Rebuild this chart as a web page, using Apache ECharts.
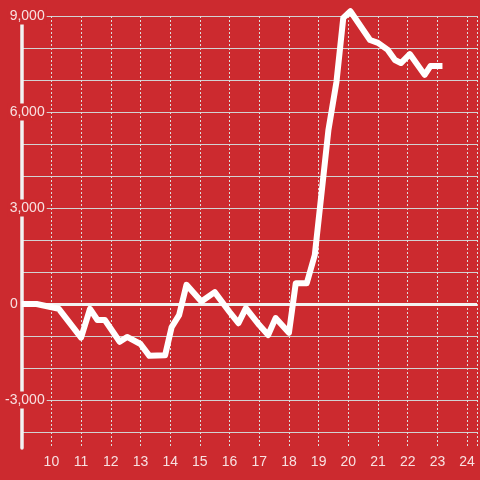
<!DOCTYPE html>
<html>
<head>
<meta charset="utf-8">
<script src="https://cdn.jsdelivr.net/npm/echarts@6/dist/echarts.min.js"></script>
<style>
  html, body { margin: 0; padding: 0; background: #cc2a2f; }
  #chart { width: 480px; height: 480px; }
</style>
</head>
<body>
<div id="chart"></div>
<script>
// time of day (hours) and value
const hours = [9, 9.5, 10.25, 11, 11.3, 11.55, 11.8, 12.3, 12.55, 13, 13.3, 13.83, 14.05, 14.3, 14.55,
  15.05, 15.5, 16, 16.3, 16.55, 17, 17.3, 17.55, 18, 18.23, 18.6, 18.87, 19.33, 19.6, 19.83, 20.07,
  20.73, 21, 21.33, 21.57, 21.77, 22.07, 22.57, 22.77, 23.17];
const values = [0, 0, -150, -1050, -150, -500, -500, -1180, -1030, -1250, -1620, -1600, -720, -350, 600,
  80, 370, -250, -600, -130, -660, -970, -440, -900, 650, 650, 1530, 5440, 6940, 8940, 9150,
  8250, 8160, 7940, 7625, 7530, 7810, 7160, 7440, 7440];
const xTicks = [10, 11, 12, 13, 14, 15, 16, 17, 18, 19, 20, 21, 22, 23, 24];
const yLabels = [-3000, 0, 3000, 6000, 9000];

const bg = '#cc2a2f';
const txt = 'rgba(255,255,255,0.86)';
const font = 'Liberation Sans, Arial, sans-serif';

const mychart = echarts.init(document.getElementById('chart'));

const gridColors = [];
for (let i = 0; i < 15; i++) gridColors.push(i === 0 ? 'transparent' : '#d2d2d2');

option = {
  backgroundColor: bg,
  animation: false,
  grid: { left: 20, right: 0, top: 16, bottom: 32 },
  xAxis: {
    type: 'value',
    min: 9,
    max: 24.333,
    interval: 1,
    axisLine: { show: false },
    axisTick: { show: false },
    axisLabel: {
      color: txt,
      fontFamily: font,
      fontSize: 14,
      margin: 7,
      formatter: function (v) { return xTicks.indexOf(v) >= 0 ? String(v) : ''; }
    },
    splitLine: {
      show: true,
      lineStyle: { color: '#dcdcdc', width: 1, type: [2, 2] }
    }
  },
  yAxis: {
    type: 'value',
    min: -4500,
    max: 9000,
    splitNumber: 14,
    axisLine: { show: true, onZero: false, lineStyle: { color: '#f2f2f2', width: 3.5 } },
    axisTick: { show: false },
    axisLabel: {
      margin: -25,
      fontFamily: font,
      fontSize: 14,
      color: txt,
      formatter: function (v) {
        if (yLabels.indexOf(v) < 0) return '';
        if (v === 0) return '{z|0}';
        return '{a|' + v.toLocaleString('en-US') + '}';
      },
      rich: {
        a: { color: txt, fontFamily: font, fontSize: 14, backgroundColor: bg, padding: [2, 2, 1, 2] },
        z: { color: txt, fontFamily: font, fontSize: 14, padding: [0, 29, 0, 0] }
      }
    },
    splitLine: { show: true, lineStyle: { color: gridColors, width: 1 } }
  },
  series: [{
    type: 'line',
    data: hours.map(function (h, i) { return [h, values[i]]; }),
    showSymbol: false,
    clip: false,
    lineStyle: { color: '#ffffff', width: 6, cap: 'butt', join: 'round' },
    z: 5,
    markLine: {
      silent: true,
      symbol: 'none',
      label: { show: false },
      lineStyle: { color: '#f2f2f2', width: 3, type: 'solid' },
      data: [{ yAxis: 0 }]
    }
  }]
};
mychart.setOption(option);
window.addEventListener('resize', function () { mychart.resize(); });
</script>
</body>
</html>
